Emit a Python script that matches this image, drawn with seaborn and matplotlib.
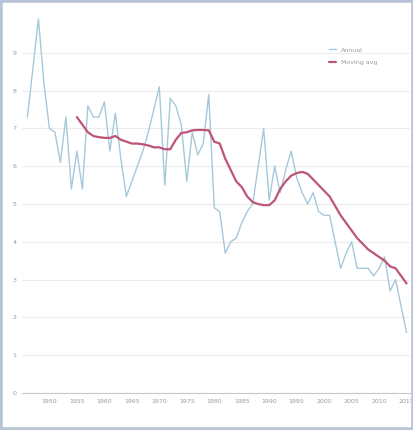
import matplotlib
matplotlib.use("Agg")
from matplotlib import pyplot as plt
from matplotlib.patches import Rectangle
import seaborn as sn
import numpy as np
import pandas as pd

# ---- data ----
years = list(range(1946, 2016))
actual = [7.3, 8.6, 9.9, 8.2, 7.0, 6.9, 6.1, 7.3, 5.4, 6.4,
          5.4, 7.6, 7.3, 7.3, 7.7, 6.4, 7.4, 6.2, 5.2, 5.6,
          6.0, 6.4, 6.9, 7.5, 8.1, 5.5, 7.8, 7.6, 7.1, 5.6,
          6.9, 6.3, 6.6, 7.9, 4.9, 4.8, 3.7, 4.0, 4.1, 4.5,
          4.8, 5.0, 6.0, 7.0, 5.1, 6.0, 5.3, 5.9, 6.4, 5.7,
          5.3, 5.0, 5.3, 4.8, 4.7, 4.7, 4.0, 3.3, 3.7, 4.0,
          3.3, 3.3, 3.3, 3.1, 3.3, 3.6, 2.7, 3.0, 2.3, 1.6]
ma_years = list(range(1955, 2016))
moving_avg = [7.3, 7.1, 6.9, 6.8, 6.77, 6.75, 6.75, 6.8, 6.7, 6.65,
              6.6, 6.6, 6.58, 6.55, 6.5, 6.5, 6.45, 6.45, 6.7, 6.88,
              6.9, 6.95, 6.96, 6.96, 6.95, 6.65, 6.6, 6.2, 5.9, 5.6,
              5.45, 5.2, 5.05, 5.0, 4.97, 4.97, 5.1, 5.4, 5.6, 5.75,
              5.82, 5.85, 5.8, 5.65, 5.5, 5.35, 5.2, 4.95, 4.7, 4.5,
              4.3, 4.1, 3.95, 3.8, 3.7, 3.6, 3.5, 3.35, 3.3, 3.1, 2.9]
series_names = ["Annual", "Moving avg"]
xtick_years = list(range(1950, 2016, 5))
ytick_vals = list(range(0, 10))

df = pd.concat([
    pd.DataFrame({"year": years, "value": actual, "series": series_names[0]}),
    pd.DataFrame({"year": ma_years, "value": moving_avg, "series": series_names[1]}),
])

sn.set_style("white")
plt.rcParams['font.family'] = ['DejaVu Sans']

fig = plt.figure(figsize=(4.14, 4.30), dpi=100)
ax = fig.add_axes([0.053, 0.086, 0.937, 0.879])

sn.lineplot(data=df, x="year", y="value", hue="series",
            palette={"Annual": "#a6c8da", "Moving avg": "#bd5577"},
            ax=ax)
# blue thin, red a bit heavier like the source
ax.lines[0].set_linewidth(1.0)
ax.lines[1].set_linewidth(1.6)

ax.set_xlim(1945, 2015.6)
ax.set_ylim(0, 10)
ax.set_xticks(xtick_years)
ax.set_yticks(ytick_vals)
ax.tick_params(axis="both", labelsize=4.5, colors="#9a9a9a", length=0, pad=4)
ax.yaxis.grid(True, color="#ececec", linewidth=0.8)
ax.set_xlabel("")
ax.set_ylabel("")
for side in ["top", "right", "left"]:
    ax.spines[side].set_visible(False)
ax.spines["bottom"].set_color("#c8c8c8")
ax.spines["bottom"].set_linewidth(0.8)

leg = ax.legend(loc="upper right", bbox_to_anchor=(0.93, 0.93), frameon=False,
                fontsize=4.5, handlelength=1.0, labelspacing=1.2)
for t in leg.get_texts():
    t.set_color("#9a9a9a")
leg.get_lines()[0].set_linewidth(1.0)
leg.get_lines()[1].set_linewidth(1.6)

# light frame around the chart, like the source
fig.patches.append(Rectangle((0.0, 0.0), 1.0, 1.0, transform=fig.transFigure,
                             fill=False, edgecolor="#b7c3d6", linewidth=4))

fig.savefig("out.png", dpi=100)
